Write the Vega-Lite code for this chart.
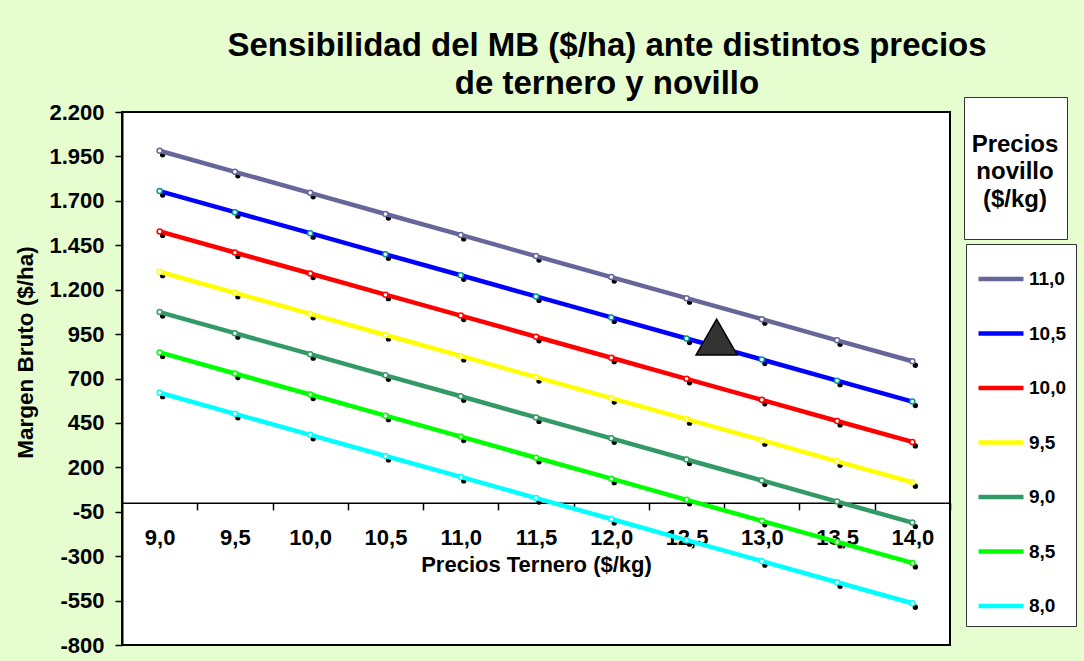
{
  "$schema": "https://vega.github.io/schema/vega-lite/v6.json",
  "width": 828,
  "height": 533,
  "autosize": {"type": "none"},
  "padding": {"left": 122, "top": 112, "right": 134, "bottom": 16},
  "background": "#E6FDD0",
  "config": {
    "locale": {"number": {"decimal": ",", "thousands": ".", "grouping": [3], "currency": ["$", ""], "minus": "-"}},
    "font": "Liberation Sans",
    "view": {"fill": "white", "stroke": "black", "strokeWidth": 2}
  },
  "title": {
    "text": ["Sensibilidad del MB ($/ha) ante distintos precios", "de ternero y novillo"],
    "fontSize": 33,
    "lineHeight": 38,
    "fontWeight": "bold",
    "color": "black",
    "anchor": "middle",
    "frame": "group",
    "dx": 71,
    "dy": 12,
    "offset": 8
  },
  "datasets": {
    "mb": [
      {"ternero": 9, "novillo": "8,0", "mb": 620}, {"ternero": 9.5, "novillo": "8,0", "mb": 501}, {"ternero": 10, "novillo": "8,0", "mb": 383}, {"ternero": 10.5, "novillo": "8,0", "mb": 264}, {"ternero": 11, "novillo": "8,0", "mb": 146}, {"ternero": 11.5, "novillo": "8,0", "mb": 27}, {"ternero": 12, "novillo": "8,0", "mb": -91}, {"ternero": 12.5, "novillo": "8,0", "mb": -210}, {"ternero": 13, "novillo": "8,0", "mb": -328}, {"ternero": 13.5, "novillo": "8,0", "mb": -447}, {"ternero": 14, "novillo": "8,0", "mb": -565},
      {"ternero": 9, "novillo": "8,5", "mb": 847}, {"ternero": 9.5, "novillo": "8,5", "mb": 728}, {"ternero": 10, "novillo": "8,5", "mb": 610}, {"ternero": 10.5, "novillo": "8,5", "mb": 491}, {"ternero": 11, "novillo": "8,5", "mb": 373}, {"ternero": 11.5, "novillo": "8,5", "mb": 254}, {"ternero": 12, "novillo": "8,5", "mb": 136}, {"ternero": 12.5, "novillo": "8,5", "mb": 17}, {"ternero": 13, "novillo": "8,5", "mb": -101}, {"ternero": 13.5, "novillo": "8,5", "mb": -220}, {"ternero": 14, "novillo": "8,5", "mb": -338},
      {"ternero": 9, "novillo": "9,0", "mb": 1074}, {"ternero": 9.5, "novillo": "9,0", "mb": 955}, {"ternero": 10, "novillo": "9,0", "mb": 837}, {"ternero": 10.5, "novillo": "9,0", "mb": 718}, {"ternero": 11, "novillo": "9,0", "mb": 600}, {"ternero": 11.5, "novillo": "9,0", "mb": 481}, {"ternero": 12, "novillo": "9,0", "mb": 363}, {"ternero": 12.5, "novillo": "9,0", "mb": 244}, {"ternero": 13, "novillo": "9,0", "mb": 126}, {"ternero": 13.5, "novillo": "9,0", "mb": 7}, {"ternero": 14, "novillo": "9,0", "mb": -111},
      {"ternero": 9, "novillo": "9,5", "mb": 1301}, {"ternero": 9.5, "novillo": "9,5", "mb": 1182}, {"ternero": 10, "novillo": "9,5", "mb": 1064}, {"ternero": 10.5, "novillo": "9,5", "mb": 945}, {"ternero": 11, "novillo": "9,5", "mb": 827}, {"ternero": 11.5, "novillo": "9,5", "mb": 708}, {"ternero": 12, "novillo": "9,5", "mb": 590}, {"ternero": 12.5, "novillo": "9,5", "mb": 471}, {"ternero": 13, "novillo": "9,5", "mb": 353}, {"ternero": 13.5, "novillo": "9,5", "mb": 234}, {"ternero": 14, "novillo": "9,5", "mb": 116},
      {"ternero": 9, "novillo": "10,0", "mb": 1528}, {"ternero": 9.5, "novillo": "10,0", "mb": 1409}, {"ternero": 10, "novillo": "10,0", "mb": 1291}, {"ternero": 10.5, "novillo": "10,0", "mb": 1172}, {"ternero": 11, "novillo": "10,0", "mb": 1054}, {"ternero": 11.5, "novillo": "10,0", "mb": 935}, {"ternero": 12, "novillo": "10,0", "mb": 817}, {"ternero": 12.5, "novillo": "10,0", "mb": 698}, {"ternero": 13, "novillo": "10,0", "mb": 580}, {"ternero": 13.5, "novillo": "10,0", "mb": 461}, {"ternero": 14, "novillo": "10,0", "mb": 343},
      {"ternero": 9, "novillo": "10,5", "mb": 1755}, {"ternero": 9.5, "novillo": "10,5", "mb": 1636}, {"ternero": 10, "novillo": "10,5", "mb": 1518}, {"ternero": 10.5, "novillo": "10,5", "mb": 1399}, {"ternero": 11, "novillo": "10,5", "mb": 1281}, {"ternero": 11.5, "novillo": "10,5", "mb": 1162}, {"ternero": 12, "novillo": "10,5", "mb": 1044}, {"ternero": 12.5, "novillo": "10,5", "mb": 925}, {"ternero": 13, "novillo": "10,5", "mb": 807}, {"ternero": 13.5, "novillo": "10,5", "mb": 688}, {"ternero": 14, "novillo": "10,5", "mb": 570},
      {"ternero": 9, "novillo": "11,0", "mb": 1982}, {"ternero": 9.5, "novillo": "11,0", "mb": 1863}, {"ternero": 10, "novillo": "11,0", "mb": 1745}, {"ternero": 10.5, "novillo": "11,0", "mb": 1626}, {"ternero": 11, "novillo": "11,0", "mb": 1508}, {"ternero": 11.5, "novillo": "11,0", "mb": 1389}, {"ternero": 12, "novillo": "11,0", "mb": 1271}, {"ternero": 12.5, "novillo": "11,0", "mb": 1152}, {"ternero": 13, "novillo": "11,0", "mb": 1034}, {"ternero": 13.5, "novillo": "11,0", "mb": 915}, {"ternero": 14, "novillo": "11,0", "mb": 797}
    ],
    "marker": [
      {"ternero": 12.7, "mb": 933, "tipo": "actual"}
    ]
  },
  "encoding": {
    "x": {
      "field": "ternero",
      "type": "quantitative",
      "scale": {"domain": [8.75, 14.25], "nice": false, "zero": false},
      "axis": {
        "title": "Precios Ternero ($/kg)",
        "values": [9, 9.5, 10, 10.5, 11, 11.5, 12, 12.5, 13, 13.5, 14],
        "format": ".1f",
        "offset": -142.13,
        "tickOffset": 37.64,
        "labelOffset": -37.64,
        "labelFlush": false,
        "labelOverlap": false,
        "grid": false,
        "tickSize": 7,
        "tickWidth": 1.5,
        "tickColor": "black",
        "domainColor": "black",
        "domainWidth": 1.5,
        "labelFontSize": 22,
        "labelFontWeight": "bold",
        "labelColor": "black",
        "labelPadding": 18,
        "titleFontSize": 22,
        "titleFontWeight": "bold",
        "titleColor": "black",
        "titlePadding": 6
      }
    },
    "y": {
      "field": "mb",
      "type": "quantitative",
      "scale": {"domain": [-800, 2200], "nice": false, "zero": false},
      "axis": {
        "title": "Margen Bruto ($/ha)",
        "values": [-800, -550, -300, -50, 200, 450, 700, 950, 1200, 1450, 1700, 1950, 2200],
        "format": ",d",
        "grid": false,
        "labelOverlap": false,
        "tickSize": 7,
        "tickWidth": 1.5,
        "tickColor": "black",
        "domainColor": "black",
        "domainWidth": 2,
        "labelFontSize": 22,
        "labelFontWeight": "bold",
        "labelColor": "black",
        "labelPadding": 11,
        "titleFontSize": 22.5,
        "titleFontWeight": "bold",
        "titleColor": "black",
        "titlePadding": 11,
        "titleY": 240
      }
    }
  },
  "layer": [
    {
      "data": {"name": "mb"},
      "mark": {"type": "point", "filled": true, "color": "black", "size": 28, "opacity": 1, "xOffset": 3, "yOffset": 4}
    },
    {
      "data": {"name": "mb"},
      "mark": {"type": "line", "strokeWidth": 4.5},
      "encoding": {
        "color": {
          "field": "novillo",
          "type": "nominal",
          "scale": {
            "domain": ["11,0", "10,5", "10,0", "9,5", "9,0", "8,5", "8,0"],
            "range": ["#666699", "#0000FF", "#FF0000", "#FFFF00", "#339966", "#00FF00", "#00FFFF"]
          },
          "legend": {
            "title": null,
            "orient": "none",
            "legendX": 844,
            "legendY": 132,
            "padding": 10,
            "fillColor": "white",
            "strokeColor": "#333333",
            "symbolType": "stroke",
            "symbolSize": 2025,
            "symbolStrokeWidth": 4.5,
            "rowPadding": 19.5,
            "labelFontSize": 19,
            "labelFontWeight": "bold",
            "labelColor": "black",
            "labelOffset": 3
          }
        }
      }
    },
    {
      "data": {"name": "mb"},
      "mark": {"type": "point", "filled": true, "fill": "white", "size": 25, "strokeWidth": 1.5, "opacity": 1},
      "encoding": {
        "stroke": {
          "field": "novillo",
          "type": "nominal",
          "scale": {
            "domain": ["11,0", "10,5", "10,0", "9,5", "9,0", "8,5", "8,0"],
            "range": ["#666699", "#009999", "#FF0000", "#FFFF00", "#339966", "#00FF00", "#00FFFF"]
          },
          "legend": null
        }
      }
    },
    {
      "data": {"name": "marker"},
      "mark": {"type": "point", "filled": true, "fill": "#333333", "stroke": "black", "strokeWidth": 1.5, "size": 1700, "opacity": 1},
      "encoding": {
        "shape": {
          "field": "tipo",
          "type": "nominal",
          "scale": {"range": ["triangle-up"]},
          "legend": {
            "title": ["", "Precios", "novillo", "($/kg)"],
            "orient": "none",
            "legendX": 842,
            "legendY": -15,
            "padding": 8,
            "fillColor": "white",
            "strokeColor": "#333333",
            "titleFontSize": 24,
            "titleFontWeight": "bold",
            "titleColor": "black",
            "titleLineHeight": 27.5,
            "titleAnchor": "middle",
            "titleAlign": "center",
            "titlePadding": 14,
            "symbolOpacity": 0,
            "symbolSize": 16,
            "labelExpr": "''",
            "labelFontSize": 4
          }
        }
      }
    }
  ]
}
